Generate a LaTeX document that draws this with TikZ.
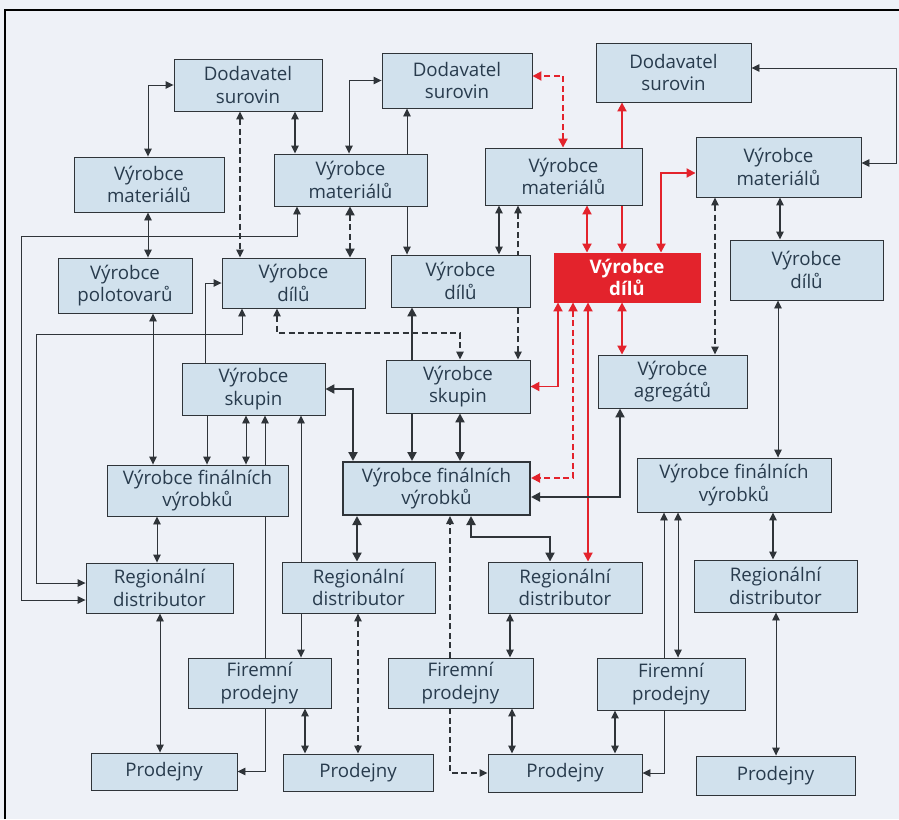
\documentclass[tikz,border=0pt]{standalone}
\usepackage{fontspec}
\setmainfont{Open Sans}
\usetikzlibrary{arrows.meta}
\definecolor{pagec}{HTML}{EEF1F7}
\definecolor{boxc}{HTML}{D1E1ED}
\definecolor{linec}{HTML}{2F3439}
\definecolor{textc}{HTML}{283B4D}
\definecolor{redc}{HTML}{E3232C}
\pgfdeclarelayer{paper}
\pgfdeclarelayer{links}
\pgfsetlayers{paper,links,main}
\begin{document}
\begin{tikzpicture}[x=1pt,y=-1pt,
  box/.style={draw=linec, line width=0.9pt, fill=boxc, text=textc, align=center,
    inner sep=0pt, font=\fontsize{18.7}{22.5}\selectfont},
  hot/.style={box, draw=redc, fill=redc, text=white, font=\fontsize{18.7}{22.5}\selectfont\bfseries},
  wh/.style 2 args={minimum width=#1pt, minimum height=#2pt},
  lnA/.style={draw=linec, line width=0.9pt},
  lnB/.style={draw=linec, line width=1.4pt},
  lnC/.style={draw=linec, line width=2.1pt},
  rd/.style={draw=redc, line width=1.9pt},
  dsh/.style={dash pattern=on 6pt off 3.5pt},
  tw/.style={{Triangle[length=8pt,width=7.5pt]}-{Triangle[length=8pt,width=7.5pt]}},
  to1/.style={-{Triangle[length=8pt,width=7.5pt]}},
  tw2/.style={{Triangle[length=9pt,width=9pt]}-{Triangle[length=9pt,width=9pt]}},
  to2/.style={-{Triangle[length=9pt,width=9pt]}}
]
\useasboundingbox (0,0) rectangle (899,819);

% suppliers of raw material
\node[box,wh={148}{52}] (A1) at (248,85) {Dodavatel\\surovin};
\node[box,wh={150}{55}] (A2) at (457,80.5) {Dodavatel\\surovin};
\node[box,wh={155}{59}] (A3) at (673.5,72.5) {Dodavatel\\surovin};
% material producers
\node[box,wh={150}{55}] (B1) at (149,184.5) {Výrobce\\materiálů};
\node[box,wh={153}{52}] (B2) at (350.5,180) {Výrobce\\materiálů};
\node[box,wh={157}{57}] (B3) at (563.5,176.5) {Výrobce\\materiálů};
\node[box,wh={165}{60}] (B4) at (778.5,167) {Výrobce\\materiálů};
% semi-products and parts
\node[box,wh={134}{55}] (C1) at (125,285.5) {Výrobce\\polotovarů};
\node[box,wh={143}{50}] (C2) at (293.5,283) {Výrobce\\dílů};
\node[box,wh={139}{52}] (C3) at (460.5,281) {Výrobce\\dílů};
\node[hot,wh={146}{49}] (C4) at (627,277.5) {Výrobce\\dílů};
\node[box,wh={153}{60}] (C5) at (806.5,270) {Výrobce\\dílů};
% assemblies
\node[box,wh={143}{52}] (D1) at (253.5,389) {Výrobce\\skupin};
\node[box,wh={144}{53}] (D2) at (458,386.5) {Výrobce\\skupin};
\node[box,wh={149}{53}] (D3) at (672.5,381.5) {Výrobce\\agregátů};
% final products
\node[box,wh={181}{51}] (E1) at (197.5,490.5) {Výrobce finálních\\výrobků};
\node[box,line width=2pt,wh={187}{53}] (E2) at (436.5,488.5) {Výrobce finálních\\výrobků};
\node[box,wh={194}{54}] (E3) at (734,485) {Výrobce finálních\\výrobků};
% distribution
\node[box,wh={147}{50}] (F1) at (159.5,588) {Regionální\\distributor};
\node[box,wh={153}{51}] (F2) at (358.5,587.5) {Regionální\\distributor};
\node[box,wh={154}{51}] (F3) at (565,587.5) {Regionální\\distributor};
\node[box,wh={163}{52}] (F4) at (775.5,586) {Regionální\\distributor};
\node[box,wh={143}{50}] (G1) at (259.5,683) {Firemní\\prodejny};
\node[box,wh={145}{50}] (G2) at (460.5,683) {Firemní\\prodejny};
\node[box,wh={148}{52}] (G3) at (671,684) {Firemní\\prodejny};
\node[box,wh={146}{37}] (H1) at (164,771.5) {Prodejny};
\node[box,wh={150}{37}] (H2) at (358,772.5) {Prodejny};
\node[box,wh={154}{38}] (H3) at (565,773) {Prodejny};
\node[box,wh={159}{39}] (H4) at (775.5,775.5) {Prodejny};

\begin{pgfonlayer}{paper}
  \fill[pagec] (0,0) rectangle (899,819);
  \draw[black, line width=2.6pt] (5,819) -- (5,10) -- (899,10);
\end{pgfonlayer}

\begin{pgfonlayer}{links}
  % upper tiers
  \draw[lnA,tw] (B1.north -| 148,0) |- (A1.west);
  \draw[lnB,dsh,tw] (A1.south -| 240,0) -- (C2.north -| 240,0);
  \draw[lnB,tw] (A1.south -| 295,0) -- (B2.north -| 295,0);
  \draw[lnA,tw] (B1.south -| 148,0) -- (C1.north -| 148,0);
  \draw[lnA,tw] (B2.south -| 297,0) -- (297,236) -- (21,236) -- (21,600) -- (F1.west |- 0,600);
  \draw[lnA,tw] (C2.south -| 242,0) -- (242,334) -- (36,334) -- (36,583) -- (F1.west |- 0,583);
  \draw[lnC,dsh,tw2] (B2.south -| 350,0) -- (C2.north -| 350,0);
  \draw[lnA,to1] (B2.south -| 407,0) -- (C3.north -| 407,0);
  \draw[lnA,tw] (B2.north -| 349,0) |- (A2.west);
  \draw[lnA,to1] (B2.north -| 407,0) -- (A2.south -| 407,0);
  \draw[lnB,tw] (B3.south -| 499,0) -- (C3.north -| 499,0);
  \draw[lnB,dsh,tw] (D2.north -| 518,0) -- (B3.south -| 518,0);
  \draw[rd,dsh,tw2] (B3.north -| 563,0) |- (A2.east |- 0,76);
  \draw[rd,tw2] (B3.south -| 587,0) -- (C4.north -| 587,0);
  \draw[rd,tw2] (C4.north -| 622,0) -- (A3.south -| 622,0);
  \draw[rd,tw2] (C4.north -| 661,0) |- (B4.west |- 0,173);
  \draw[lnA,tw] (A3.east |- 0,68) -- (896,68) -- (896,163) -- (B4.east |- 0,163);
  \draw[lnB,tw] (B4.south -| 780,0) -- (C5.north -| 780,0);
  \draw[lnB,dsh,tw] (B4.south -| 715,0) -- (D3.north -| 715,0);
  \draw[lnA,tw] (C5.south -| 778,0) -- (E3.north -| 778,0);
  % links of the highlighted parts producer
  \draw[rd,tw2] (C4.south -| 622,0) -- (D3.north -| 622,0);
  \draw[rd,tw2] (C4.south -| 558,0) |- (D2.east);
  \draw[rd,dsh,tw2] (C4.south -| 573,0) |- (E2.east |- 0,478);
  \draw[rd,tw2] (C4.south -| 588,0) -- (F3.north -| 588,0);
  % middle tiers
  \draw[lnC,tw2] (D3.south -| 620,0) |- (E2.east |- 0,497);
  \draw[lnC,to2] (D2.north -| 412,0) -- (C3.south -| 412,0);
  \draw[lnC,to2] (D2.south -| 412,0) -- (E2.north -| 412,0);
  \draw[lnB,dsh,tw] (C2.south -| 277,0) -- (277,333) -- (460,333) -- (D2.north -| 460,0);
  \draw[lnC,tw2] (D1.east) -| (E2.north -| 353,0);
  \draw[lnC,tw2] (D2.south -| 460,0) -- (E2.north -| 460,0);
  \draw[lnC,tw2] (E2.south -| 357,0) -- (F2.north -| 357,0);
  \draw[lnB,dsh,to1] (G2.north -| 450,0) -- (E2.south -| 450,0);
  \draw[lnB,dsh,to1] (G2.south -| 450,0) |- (H3.west);
  \draw[lnC,tw2] (E2.south -| 471,0) -- (471,537) -- (550,537) -- (F3.north -| 550,0);
  \draw[lnA,to1] (D1.north -| 205,0) |- (C2.west);
  \draw[lnA,to1] (D1.south -| 207,0) -- (E1.north -| 207,0);
  \draw[lnA,tw] (D1.south -| 246,0) -- (E1.north -| 246,0);
  \draw[lnA,tw] (H1.east) -| (D1.south -| 265,0);
  \draw[lnA,tw] (G1.north -| 301,0) -- (D1.south -| 301,0);
  \draw[lnA,tw] (C1.south -| 153,0) -- (E1.north -| 153,0);
  % lower tiers
  \draw[lnA,tw] (E1.south -| 157,0) -- (F1.north -| 157,0);
  \draw[lnA,tw] (F1.south -| 160,0) -- (H1.north -| 160,0);
  \draw[lnB,tw] (G1.south -| 305,0) -- (H2.north -| 305,0);
  \draw[lnB,dsh,tw] (F2.south -| 358,0) -- (H2.north -| 358,0);
  \draw[lnB,tw] (F3.south -| 510,0) -- (G2.north -| 510,0);
  \draw[lnB,tw] (G2.south -| 512,0) -- (H3.north -| 512,0);
  \draw[lnB,tw] (G3.south -| 615,0) -- (H3.north -| 615,0);
  \draw[lnA,tw] (H3.east) -| (E3.south -| 664,0);
  \draw[lnA,tw] (E3.south -| 678,0) -- (G3.north -| 678,0);
  \draw[lnB,tw] (E3.south -| 773,0) -- (F4.north -| 773,0);
  \draw[lnA,tw] (F4.south -| 776,0) -- (H4.north -| 776,0);
\end{pgfonlayer}
\end{tikzpicture}
\end{document}
